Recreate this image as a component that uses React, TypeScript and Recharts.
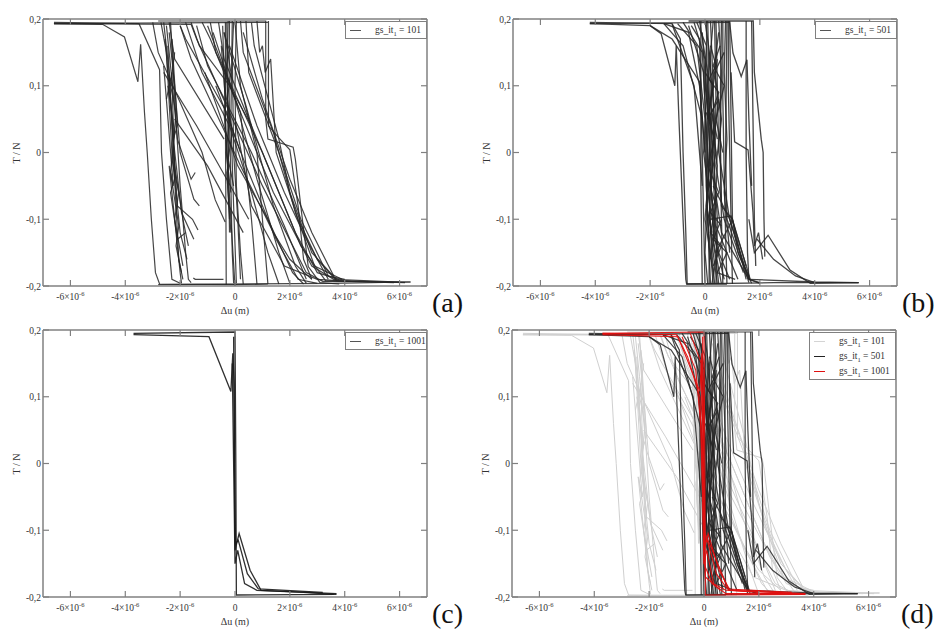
import React from 'react';
import { ComposedChart, Line, XAxis, YAxis } from 'recharts';

type Pt = [number, number];

const xTicks = [-6, -4, -2, 0, 2, 4, 6];
const yTicks = [-0.2, -0.1, 0, 0.1, 0.2];
const xDomain = [-7, 7];
const yDomain = [-0.2, 0.2];

// Panel (a): gs_it1 = 101  (x in 1e-6 m, y in N)
const tracesA: Pt[][] = [
  [[-6.6, 0.193], [-4.83, 0.192], [-4.03, 0.173], [-3.54, 0.106], [-3.44, 0.162], [-3.3, 0.06], [-3.2, 0.0], [-3.05, -0.1], [-2.9, -0.18], [-2.75, -0.197], [0, -0.198], [1.2, -0.197]],
  [[-6.6, 0.195], [-3.5, 0.193], [-2.75, 0.124], [-2.68, 0.0], [-2.5, -0.1], [-2.3, -0.19], [-2.0, -0.196]],
  [[-6.6, 0.193], [1.2, 0.195]],
  [[-2.8, 0.197], [1.12, 0.197], [1.12, 0.05], [1.2, 0.02], [1.6, 0.015], [2.12, 0.008], [2.2, -0.01], [2.43, -0.091], [2.67, -0.171], [3.1, -0.195], [3.8, -0.197]],
  [[1.22, 0.197], [1.22, 0.04], [1.6, 0.022], [2.0, 0.004], [2.3, -0.08], [2.5, -0.16], [2.8, -0.19]],
  [[-2.7, 0.195], [-2.5, 0.15], [-2.3, 0.0], [-2.0, -0.12], [-1.75, -0.16]],
  [[-2.6, 0.195], [-2.4, 0.12], [-2.2, -0.02], [-1.9, -0.1], [-1.7, -0.14]],
  [[-2.5, 0.19], [-2.35, 0.13], [-2.1, 0.02], [-1.6, -0.04], [-1.45, -0.03]],
  [[-2.4, 0.18], [-2.2, 0.1], [-2.0, 0.0], [-1.5, -0.07], [-1.3, -0.08]],
  [[-2.55, 0.17], [-2.3, 0.05], [-2.1, -0.08], [-1.55, -0.1], [-1.35, -0.116]],
  [[-2.45, 0.16], [-2.25, 0.0], [-2.05, -0.16], [-1.9, -0.19]],
  [[-2.35, 0.195], [-2.2, 0.08], [-2.0, -0.05], [-1.8, -0.15], [-1.7, -0.19], [-1.6, -0.195]],
  [[-2.6, 0.13], [-2.25, -0.05], [-2.4, -0.02], [-2.0, -0.18], [-1.95, -0.196]],
  [[-2.5, 0.08], [-2.3, 0.12], [-2.2, -0.04], [-2.35, -0.06], [-2.1, -0.13], [-1.8, -0.12]],
  [[-2.3, 0.17], [-2.1, 0.04], [-2.25, 0.02], [-1.95, -0.09], [-1.5, -0.13]],
  [[-2.2, 0.15], [-2.35, 0.1], [-2.15, 0.06], [-2.3, -0.01], [-2.05, -0.06], [-2.2, -0.1], [-1.9, -0.17]],
  [[-2.45, 0.1], [-2.2, 0.03], [-2.35, -0.03], [-2.05, -0.11], [-2.15, -0.14], [-1.95, -0.18]],
  [[-3.0, 0.195], [-2.8, 0.15], [-1.2, 0.0], [-0.72, -0.071], [-0.36, -0.104]],
  [[-2.4, 0.195], [-2.2, 0.14], [-0.4, 0.02]],
  [[-2.0, 0.19], [-1.8, 0.17], [-0.3, 0.06], [0.2, 0.0]],
  [[-2.6, 0.12], [-1.4, 0.04], [-0.3, -0.04], [0.5, -0.1]],
  [[-1.6, 0.195], [-1.3, 0.16], [-0.2, 0.1], [0.6, 0.04]],
  [[-2.2, 0.05], [-1.0, -0.02], [0.3, -0.12]],
  [[-1.52, -0.188], [-1.45, -0.19], [-0.42, -0.19]],
  [[-0.35, 0.195], [-0.35, 0.05], [-0.33, -0.1], [-0.32, -0.198]],
  [[-0.2, 0.197], [-0.22, 0.1], [-0.15, -0.05], [-0.1, -0.15], [-0.05, -0.196]],
  [[-0.45, 0.19], [-0.4, 0.12], [-0.3, 0.0], [-0.15, -0.1], [0.0, -0.2]],
  [[-0.1, 0.197], [-0.15, 0.05], [-0.05, -0.08], [0.05, -0.196]],
  [[-0.3, 0.195], [-0.25, 0.0], [-0.2, -0.12]],
  [[-0.05, 0.195], [-0.1, 0.15], [-0.05, 0.0], [0.1, -0.1], [0.2, -0.19]],
  [[-0.5, 0.16], [-0.35, 0.08], [-0.4, 0.06], [-0.25, -0.02], [-0.3, -0.03], [-0.15, -0.12]],
  [[0.05, 0.197], [0.0, 0.1], [0.05, -0.05], [0.2, -0.15], [0.3, -0.197]],
  [[-0.25, 0.197], [-0.3, 0.12], [-0.22, 0.02], [-0.28, -0.04], [-0.2, -0.1]],
  [[-0.4, 0.18], [-0.25, 0.15], [-0.38, 0.1], [-0.2, 0.05], [-0.32, 0.0], [-0.15, -0.06]],
  [[-0.3, 0.16], [-0.15, 0.12], [-0.28, 0.08], [-0.1, 0.03], [-0.25, -0.01], [-0.05, -0.05]],
  [[-6.6, 0.193], [-1.6, 0.192], [-1.4, 0.17], [1.0, -0.05], [2.6, -0.18], [3.2, -0.193], [6.4, -0.194]],
  [[-1.2, 0.195], [-0.9, 0.17], [1.4, -0.06], [2.8, -0.17], [3.6, -0.19], [6.0, -0.194]],
  [[-0.9, 0.195], [-0.7, 0.15], [1.0, 0.0], [2.2, -0.12], [3.0, -0.18], [3.8, -0.19]],
  [[-0.6, 0.195], [-0.4, 0.14], [1.2, -0.02], [2.4, -0.14], [3.3, -0.192], [5.8, -0.195]],
  [[-1.4, 0.19], [-1.0, 0.13], [0.6, 0.0], [1.8, -0.11], [2.6, -0.19]],
  [[0.2, 0.197], [0.3, 0.15], [1.4, 0.03], [2.2, -0.09], [2.9, -0.17], [3.9, -0.19]],
  [[0.4, 0.197], [0.5, 0.12], [1.6, 0.0], [2.4, -0.1], [3.4, -0.185], [4.0, -0.19]],
  [[-0.8, 0.18], [0.0, 0.08], [0.8, -0.04], [1.6, -0.15], [2.0, -0.196]],
  [[-0.4, 0.18], [0.4, 0.07], [1.4, -0.08], [2.2, -0.17], [2.6, -0.196]],
  [[0.6, 0.195], [0.7, 0.16], [1.6, 0.02], [2.0, -0.06], [2.8, -0.15], [3.7, -0.19]],
  [[-1.8, 0.195], [-1.2, 0.12], [-0.2, 0.04], [0.6, -0.06], [1.2, -0.15], [1.6, -0.197]],
  [[-0.2, 0.16], [0.8, 0.04], [1.8, -0.06], [2.6, -0.13], [3.4, -0.19]],
  [[0.0, 0.195], [0.2, 0.1], [0.8, 0.0], [1.0, -0.1], [1.2, -0.197]],
  [[0.8, 0.197], [0.9, 0.15], [1.0, 0.16], [1.1, 0.12], [1.3, 0.14], [1.5, 0.0], [2.3, -0.1], [3.0, -0.16], [3.7, -0.192], [6.2, -0.195]],
  [[-2.0, 0.19], [-1.6, 0.14], [0.2, -0.02], [1.4, -0.12], [2.0, -0.16], [2.8, -0.19]],
  [[-1.0, 0.19], [0.2, 0.06], [0.6, -0.1], [0.8, -0.197]],
  [[0.0, 0.05], [0.6, -0.08], [1.8, -0.17], [3.0, -0.19], [4.2, -0.193]],
  [[-1.1, 0.12], [0.1, -0.02], [1.2, -0.1], [2.1, -0.18], [2.5, -0.197]],
  [[0.3, 0.18], [1.0, 0.08], [2.0, -0.04], [2.8, -0.12], [3.6, -0.185]],
  [[-0.7, 0.1], [0.4, -0.02], [1.5, -0.13], [2.3, -0.19], [3.0, -0.196]],
  [[-2.8, -0.198], [3.5, -0.196], [6.4, -0.194]],
];

// Panel (b): gs_it1 = 501
const tracesB: Pt[][] = [
  [[-4.2, 0.193], [-2.0, 0.19], [-1.6, 0.178], [-1.1, 0.1], [-1.05, 0.16], [-0.95, 0.05], [-0.8, -0.1], [-0.7, -0.19], [-0.67, -0.197], [0.8, -0.197]],
  [[-4.2, 0.195], [-1.2, 0.193], [-0.9, 0.17], [-0.8, 0.0], [-0.7, -0.12], [-0.65, -0.197]],
  [[-4.2, 0.193], [0.9, 0.195]],
  [[-0.6, 0.197], [1.76, 0.197], [1.8, 0.12], [2.05, 0.02], [2.12, 0.0], [2.15, -0.1], [2.18, -0.156]],
  [[1.5, 0.197], [1.5, 0.0], [1.55, -0.15], [1.6, -0.19], [2.0, -0.196]],
  [[1.7, 0.197], [1.75, 0.05], [1.8, -0.1], [1.85, -0.17]],
  [[0.9, 0.195], [1.02, 0.149], [1.32, 0.114], [1.53, 0.139], [1.6, 0.05], [1.7, -0.05]],
  [[0.95, 0.12], [1.08, 0.016], [1.57, 0.004], [1.75, -0.09], [1.8, -0.14], [1.95, -0.12], [2.1, -0.16]],
  [[1.6, -0.1], [1.8, -0.15], [2.3, -0.124], [3.1, -0.176], [3.84, -0.196], [5.6, -0.195]],
  [[1.9, -0.13], [2.5, -0.16], [3.3, -0.185], [4.0, -0.195]],
  [[-2.0, 0.19], [-1.2, 0.17], [-0.2, 0.106], [0.0, 0.0]],
  [[-1.5, 0.193], [-0.8, 0.16], [-0.1, 0.05]],
  [[-1.2, 0.192], [-0.4, 0.1], [-0.1, -0.05]],
  [[-1.5, 0.193], [-0.6, 0.18], [-0.2, 0.1], [0.0, 0.0], [0.1, -0.1], [0.2, -0.197]],
  [[-1.0, 0.193], [-0.3, 0.16], [0.0, 0.05], [0.1, -0.1], [0.3, -0.197]],
  [[-0.8, 0.195], [-0.1, 0.15], [0.1, 0.0], [0.2, -0.12], [0.45, -0.197]],
  [[-0.4, 0.195], [0.0, 0.14], [0.15, 0.02], [0.3, -0.12], [0.7, -0.19]],
  [[-0.2, 0.197], [0.1, 0.12], [0.2, -0.05], [0.5, -0.15], [0.9, -0.19]],
  [[0.0, 0.197], [0.2, 0.14], [0.25, 0.0], [0.4, -0.11], [1.2, -0.19]],
  [[0.2, 0.197], [0.3, 0.1], [0.35, -0.05], [0.6, -0.12], [1.6, -0.19]],
  [[0.4, 0.197], [0.45, 0.1], [0.5, 0.0], [0.9, -0.1], [1.6, -0.195]],
  [[0.6, 0.197], [0.55, 0.05], [0.6, -0.08], [1.0, -0.1], [1.5, -0.17]],
  [[0.8, 0.197], [0.75, 0.0], [0.8, -0.1], [1.3, -0.16], [1.7, -0.196]],
  [[-0.1, 0.18], [0.05, 0.08], [-0.05, 0.0], [0.1, -0.05], [0.0, -0.15], [0.1, -0.197]],
  [[0.3, 0.197], [0.1, 0.1], [0.3, 0.0], [0.15, -0.1], [0.4, -0.16], [0.5, -0.197]],
  [[0.15, 0.15], [0.35, 0.05], [0.2, -0.05], [0.45, -0.15], [0.25, -0.197]],
  [[0.5, 0.18], [0.2, 0.08], [0.45, -0.02], [0.3, -0.13], [0.6, -0.197]],
  [[0.7, 0.15], [0.35, 0.12], [0.6, 0.05], [0.4, -0.02], [0.7, -0.1], [1.4, -0.18]],
  [[-0.5, 0.19], [-0.2, 0.17], [-0.1, 0.0], [-0.05, -0.1], [0.0, -0.197]],
  [[0.85, 0.197], [0.85, 0.1], [0.9, 0.0], [0.95, -0.1], [1.0, -0.197]],
  [[0.9, 0.197], [0.95, 0.05], [1.0, -0.1], [1.2, -0.15], [1.6, -0.185]],
  [[-0.15, 0.197], [-0.15, -0.05], [-0.1, -0.197]],
  [[0.5, 0.197], [0.6, 0.12], [0.55, 0.0], [0.65, -0.197]],
  [[0.1, 0.197], [0.2, 0.0], [0.0, -0.1], [0.3, -0.18]],
  [[0.3, -0.05], [0.9, -0.1], [1.6, -0.19], [2.0, -0.195]],
  [[0.2, -0.1], [0.95, -0.095], [1.65, -0.19]],
  [[0.4, -0.15], [1.0, -0.1], [1.5, -0.19]],
  [[0.0, 0.12], [0.3, 0.1], [0.1, 0.05], [0.5, 0.08], [0.2, -0.02]],
  [[0.2, 0.16], [0.4, 0.13], [0.15, 0.11], [0.5, 0.09], [0.25, 0.06], [0.45, 0.02]],
  [[0.1, -0.04], [0.4, -0.08], [0.2, -0.12], [0.6, -0.14], [0.3, -0.17]],
  [[0.55, 0.16], [0.3, 0.13], [0.7, 0.1], [0.4, 0.05], [0.65, 0.0]],
  [[-0.6, 0.19], [-0.05, 0.12], [0.1, -0.02], [0.25, -0.15], [0.35, -0.197]],
  [[0.75, 0.197], [0.7, 0.12], [0.8, 0.02], [0.7, -0.06], [0.9, -0.15]],
  [[0.05, 0.06], [0.35, 0.02], [0.1, -0.02], [0.5, -0.06], [0.2, -0.09], [0.6, -0.11]],
  [[0.6, -0.1], [0.3, -0.13], [0.8, -0.15], [0.45, -0.18], [1.1, -0.19]],
  [[0.05, 0.197], [0.1, 0.05], [0.05, -0.05], [0.15, -0.15], [0.15, -0.197]],
  [[0.35, 0.197], [0.4, 0.08], [0.35, -0.03], [0.45, -0.1], [0.4, -0.197]],
  [[0.65, 0.197], [0.65, 0.08], [0.7, -0.03], [0.75, -0.12], [0.8, -0.197]],
  [[-0.3, 0.195], [0.05, 0.16], [0.0, 0.1], [0.2, 0.04], [0.05, -0.08], [0.25, -0.12]],
  [[0.45, 0.14], [0.15, 0.06], [0.4, 0.0], [0.1, -0.06], [0.35, -0.12], [0.2, -0.16]],
  [[-0.67, -0.197], [2.5, -0.195], [5.6, -0.195]],
  [[1.6, -0.19], [4.0, -0.194], [5.6, -0.195]],
];

// Panel (c): gs_it1 = 1001
const tracesC: Pt[][] = [
  [[-3.7, 0.193], [-0.95, 0.19], [-0.15, 0.108], [-0.08, 0.165], [-0.03, 0.12], [0.0, -0.13], [0.15, -0.105], [0.55, -0.16], [0.95, -0.19], [2.0, -0.192], [3.7, -0.195]],
  [[-3.7, 0.195], [0.0, 0.197], [0.03, 0.0], [0.05, -0.197], [3.7, -0.196]],
  [[-0.05, 0.19], [-0.02, 0.0], [0.02, -0.12], [0.12, -0.115], [0.45, -0.165], [0.85, -0.188], [3.2, -0.193]],
  [[-0.1, 0.15], [0.0, -0.15], [0.1, -0.13], [0.35, -0.18], [0.8, -0.19], [2.5, -0.193], [3.6, -0.196]],
];

// Extra red curves visible in panel (d)
const tracesDRed: Pt[][] = [
  [[-3.7, 0.195], [-1.0, 0.193], [-0.6, 0.16], [-0.15, 0.1], [-0.05, -0.05], [0.0, -0.15], [0.3, -0.18], [0.8, -0.195], [3.5, -0.195]],
  [[-0.8, 0.19], [-0.3, 0.14], [-0.1, 0.05], [-0.02, -0.1], [0.2, -0.12], [0.9, -0.19], [2.0, -0.193]],
  [[-0.5, 0.195], [-0.1, 0.15], [0.0, 0.0], [0.05, -0.17], [0.6, -0.19]],
];

const legendA = [{ label: '101', color: '#555' }];
const legendB = [{ label: '501', color: '#555' }];
const legendC = [{ label: '1001', color: '#555' }];
const legendD = [
  { label: '101', color: '#d4d4d4' },
  { label: '501', color: '#222' },
  { label: '1001', color: '#e01010' },
];

const FONT = '"Liberation Serif", "Times New Roman", serif';
const FRAME = '#808080';
const W = 470;
const H = 316;
// plot area: x 43..427, y 19..286 (axes each take 1px)
const MARGIN = { top: 18, right: 42, bottom: 29, left: 42 };
const PLOT = { l: 43, r: 427, t: 19, b: 286 };

const fmtY = (v: number) => (v === 0 ? '0' : v.toFixed(1).replace('.', ','));

const XTickBottom = (props: any) => {
  const { x, y, payload } = props;
  const v = payload.value;
  return (
    <g>
      <line x1={x} y1={y} x2={x} y2={y - 6} stroke={FRAME} strokeWidth={1.2} />
      <text x={x} y={y + 14} textAnchor="middle" fontSize={9.5} fontFamily={FONT} fill="#333">
        {v === 0 ? (
          '0'
        ) : (
          <>
            <tspan>{`${v}×10`}</tspan>
            <tspan dy={-4} fontSize={6.5}>-6</tspan>
          </>
        )}
      </text>
    </g>
  );
};

const XTickTop = (props: any) => {
  const { x, y } = props;
  return <line x1={x} y1={y} x2={x} y2={y + 6} stroke={FRAME} strokeWidth={1.2} />;
};

const YTickLeft = (props: any) => {
  const { x, y, payload } = props;
  return (
    <g>
      <line x1={x} y1={y} x2={x + 6} y2={y} stroke={FRAME} strokeWidth={1.2} />
      <text x={x - 2} y={y + 3.5} textAnchor="end" fontSize={9.5} fontFamily={FONT} fill="#333">
        {fmtY(payload.value)}
      </text>
    </g>
  );
};

const YTickRight = (props: any) => {
  const { x, y } = props;
  return <line x1={x} y1={y} x2={x - 6} y2={y} stroke={FRAME} strokeWidth={1.2} />;
};

type Series = { traces: Pt[][]; color: string; width: number; opacity: number };

function LegendBox({ items, right, top }: { items: { label: string; color: string }[]; right: number; top: number }) {
  const rowH = 15;
  const boxW = items.length > 1 ? 87 : 82;
  return (
    <div
      style={{
        position: 'absolute',
        left: right - boxW,
        top,
        width: boxW,
        height: items.length * rowH + 3,
        border: `1px solid ${FRAME}`,
        boxSizing: 'border-box',
        background: '#fff',
        fontFamily: FONT,
        fontSize: 9.5,
        color: '#333',
      }}
    >
      {items.map((it, i) => (
        <div key={i} style={{ position: 'absolute', left: 4, top: 1 + i * rowH, height: rowH, display: 'flex', alignItems: 'center', whiteSpace: 'nowrap' }}>
          <span style={{ display: 'inline-block', width: 11, height: 1.5, background: it.color, marginRight: 14 }} />
          <span>
            gs_it<sub style={{ fontSize: 6.5 }}>1</sub> = {it.label}
          </span>
        </div>
      ))}
    </div>
  );
}

function Panel({ left, top, series, legend, tag }: { left: number; top: number; series: Series[]; legend: { label: string; color: string }[]; tag: string }) {
  return (
    <div style={{ position: 'absolute', left, top, width: W, height: H }}>
      <ComposedChart width={W} height={H} margin={MARGIN}>
        <XAxis xAxisId="b" type="number" dataKey="x" domain={xDomain} ticks={xTicks} allowDataOverflow
          tick={<XTickBottom />} tickLine={false} tickSize={0} tickMargin={0} height={1} stroke={FRAME} strokeWidth={1.5} interval={0} />
        <XAxis xAxisId="t" orientation="top" type="number" dataKey="x" domain={xDomain} ticks={xTicks} allowDataOverflow
          tick={<XTickTop />} tickLine={false} tickSize={0} tickMargin={0} height={1} stroke={FRAME} strokeWidth={1.5} interval={0} />
        <YAxis yAxisId="l" type="number" dataKey="y" domain={yDomain} ticks={yTicks} allowDataOverflow
          tick={<YTickLeft />} tickLine={false} tickSize={0} tickMargin={0} width={1} stroke={FRAME} strokeWidth={1.5} interval={0} />
        <YAxis yAxisId="r" orientation="right" type="number" dataKey="y" domain={yDomain} ticks={yTicks} allowDataOverflow
          tick={<YTickRight />} tickLine={false} tickSize={0} tickMargin={0} width={1} stroke={FRAME} strokeWidth={1.5} interval={0} />
        {series.flatMap((s, si) =>
          s.traces.map((tr, ti) => (
            <Line
              key={`${si}-${ti}`}
              xAxisId="b"
              yAxisId="l"
              data={tr.map(([x, y]) => ({ x, y }))}
              dataKey="y"
              type="linear"
              stroke={s.color}
              strokeWidth={s.width}
              strokeOpacity={s.opacity}
              dot={false}
              activeDot={false}
              isAnimationActive={false}
            />
          ))
        )}
      </ComposedChart>
      <LegendBox items={legend} right={PLOT.r} top={PLOT.t + 2} />
      <div style={{ position: 'absolute', left: (PLOT.l + PLOT.r) / 2 - 30, width: 60, top: PLOT.b + 20, textAlign: 'center', fontFamily: FONT, fontSize: 10, color: '#333', lineHeight: '10px' }}>
        Δu (m)
      </div>
      <div style={{ position: 'absolute', left: 17 - 30, width: 60, top: (PLOT.t + PLOT.b) / 2 - 5, textAlign: 'center', fontFamily: FONT, fontSize: 10, color: '#333', lineHeight: '10px', transform: 'rotate(-90deg)' }}>
        T / N
      </div>
      <div style={{ position: 'absolute', left: PLOT.r + 5, top: PLOT.b + 3, fontFamily: FONT, fontSize: 28, color: '#111', lineHeight: '28px' }}>
        {tag}
      </div>
    </div>
  );
}

export default function App() {
  const dark = '#262626';
  return (
    <div style={{ position: 'absolute', left: 0, top: 0, width: 938, height: 632, background: '#fff', overflow: 'hidden' }}>
      <Panel left={0} top={0} tag="(a)" legend={legendA} series={[{ traces: tracesA, color: dark, width: 1.2, opacity: 0.85 }]} />
      <Panel left={470} top={0} tag="(b)" legend={legendB} series={[{ traces: tracesB, color: dark, width: 1.3, opacity: 0.85 }]} />
      <Panel left={0} top={311} tag="(c)" legend={legendC} series={[{ traces: tracesC, color: '#1a1a1a', width: 1.3, opacity: 0.9 }]} />
      <Panel
        left={469}
        top={311}
        tag="(d)"
        legend={legendD}
        series={[
          { traces: tracesA, color: '#d0d0d0', width: 1, opacity: 1 },
          { traces: tracesB, color: dark, width: 1.2, opacity: 0.85 },
          { traces: tracesC, color: '#e01010', width: 1.1, opacity: 0.95 },
          { traces: tracesDRed, color: '#e01010', width: 1.1, opacity: 0.95 },
        ]}
      />
    </div>
  );
}
